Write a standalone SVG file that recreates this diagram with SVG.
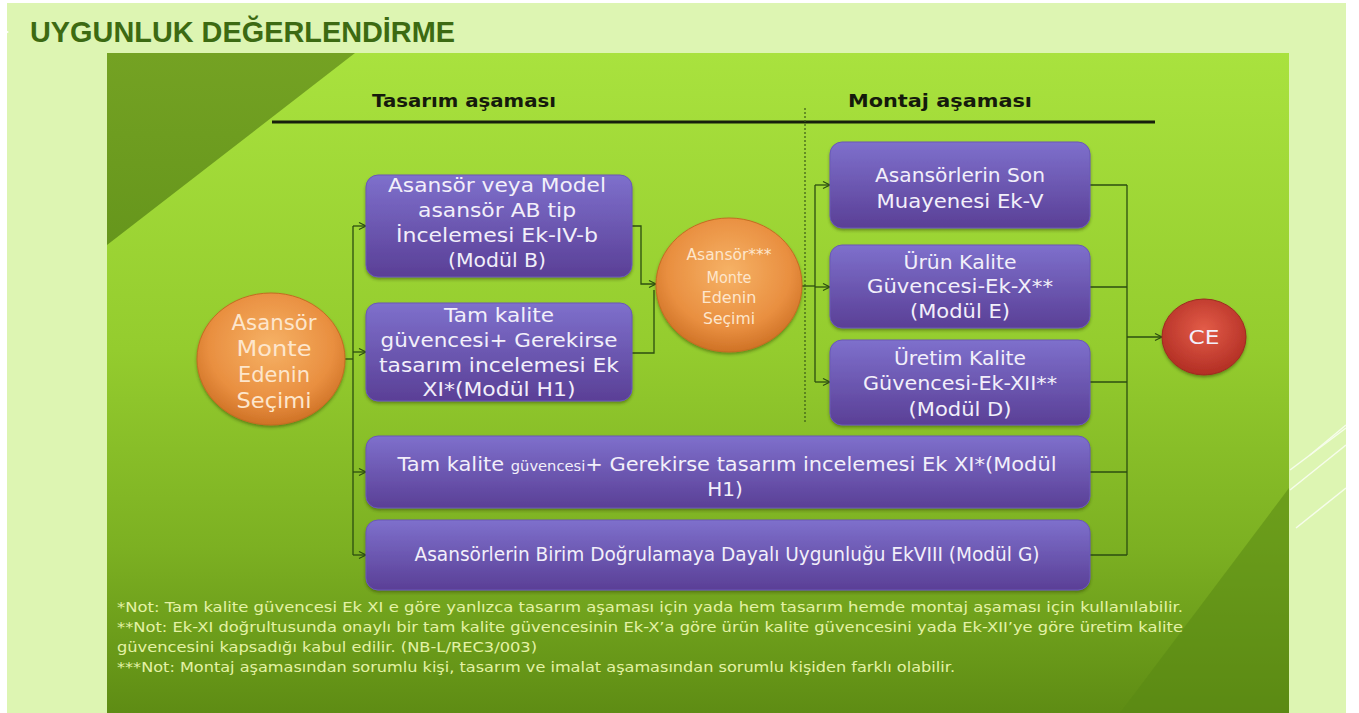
<svg xmlns="http://www.w3.org/2000/svg" width="1359" height="713" viewBox="0 0 1359 713">
<style>
.box{fill:url(#gPurple);stroke:#6a58b8;stroke-width:1;filter:url(#sh)}
.bt{font-family:"DejaVu Sans",sans-serif;font-size:20px;fill:#f2effa;text-anchor:middle}
.ct{font-family:"DejaVu Sans",sans-serif;font-size:21px;fill:#fde6cc;text-anchor:middle}
.ct2{font-family:"DejaVu Sans",sans-serif;font-size:16px;fill:#fde6cc;text-anchor:middle}
.hd{font-family:"DejaVu Sans",sans-serif;font-weight:bold;font-size:18px;fill:#151a0c}
.nt{font-family:"DejaVu Sans",sans-serif;font-size:14px;fill:#e4f2a6}
.cn{fill:none;stroke:#2c4e10;stroke-width:1.3}
.ar{marker-end:url(#arr)}
</style>
<defs>
<linearGradient id="gPanel" x1="0" y1="0" x2="0" y2="1">
<stop offset="0" stop-color="#a9e23e"/>
<stop offset="0.45" stop-color="#94cc2e"/>
<stop offset="0.75" stop-color="#7cb022"/>
<stop offset="1" stop-color="#5e8c14"/>
</linearGradient>
<linearGradient id="gTri" x1="0" y1="0" x2="0" y2="1">
<stop offset="0" stop-color="#74a223"/>
<stop offset="1" stop-color="#66961c"/>
</linearGradient>
<linearGradient id="gPurple" x1="0" y1="0" x2="0" y2="1">
<stop offset="0" stop-color="#7e70cc"/>
<stop offset="1" stop-color="#5a3f96"/>
</linearGradient>
<radialGradient id="gOrange" cx="0.5" cy="0.4" r="0.6">
<stop offset="0" stop-color="#f6b266"/>
<stop offset="0.7" stop-color="#e98f40"/>
<stop offset="1" stop-color="#cf7226"/>
</radialGradient>
<radialGradient id="gRed" cx="0.5" cy="0.4" r="0.6">
<stop offset="0" stop-color="#e35c48"/>
<stop offset="1" stop-color="#b22e24"/>
</radialGradient>
<filter id="sh" x="-10%" y="-10%" width="120%" height="130%">
<feDropShadow dx="0" dy="2" stdDeviation="1.5" flood-color="#2a3a10" flood-opacity="0.45"/>
</filter>
<marker id="arr" markerWidth="10" markerHeight="10" refX="8" refY="4" orient="auto" markerUnits="userSpaceOnUse">
<path d="M1,0.5 L8,4 L1,7.5" fill="none" stroke="#2c4e10" stroke-width="1.2"/>
</marker>
</defs>

<!-- background -->
<rect x="0" y="0" width="1359" height="713" fill="#ffffff"/>
<rect x="7" y="3" width="1339" height="710" fill="#ddf5b2"/>
<polygon points="0,27 9,32 0,37" fill="#ffffff"/>
<text x="30" y="42" font-family="Liberation Sans, Arial, sans-serif" font-weight="bold" font-size="30" fill="#3c6a12" textLength="425" lengthAdjust="spacingAndGlyphs">UYGUNLUK DEĞERLENDİRME</text>

<!-- panel -->
<rect x="107" y="53" width="1182" height="660" fill="url(#gPanel)"/>
<polygon points="107,53 355,53 107,245" fill="url(#gTri)"/>
<polygon points="1289,488 1289,713 1120,713" fill="#5a8814" opacity="0.55"/>
<g stroke="#ffffff" stroke-width="1.5" opacity="0.75">
<line x1="1290" y1="490" x2="1346" y2="445"/>
<line x1="1290" y1="470" x2="1346" y2="428"/>
<line x1="1296" y1="528" x2="1346" y2="488"/>
<line x1="1310" y1="455" x2="1346" y2="425"/>
</g>

<!-- headers -->
<text class="hd" x="372" y="107" textLength="184" lengthAdjust="spacingAndGlyphs">Tasarım aşaması</text>
<text class="hd" x="848" y="107" textLength="184" lengthAdjust="spacingAndGlyphs">Montaj aşaması</text>
<line x1="272" y1="122" x2="1155" y2="122" stroke="#17200c" stroke-width="3"/>
<line x1="805" y1="108" x2="805" y2="422" stroke="#3a5a18" stroke-width="1.2" stroke-dasharray="2 2"/>

<!-- connectors -->
<g id="connectors">
<path class="cn" d="M345,359 H353"/>
<path class="cn" d="M353,226 V555"/>
<path class="cn ar" d="M353,226 H366"/>
<path class="cn ar" d="M353,352 H366"/>
<path class="cn ar" d="M353,472 H366"/>
<path class="cn ar" d="M353,555 H366"/>
<path class="cn ar" d="M632,226 H641 V284 H656"/>
<path class="cn" d="M632,353 H654 V290"/>
<path class="cn" d="M802,286 H815"/>
<path class="cn" d="M815,185 V382"/>
<path class="cn ar" d="M815,185 H830"/>
<path class="cn ar" d="M815,287 H830"/>
<path class="cn ar" d="M815,382 H830"/>
<path class="cn" d="M1090,185 H1127 M1090,287 H1127 M1090,382 H1127 M1090,472 H1127 M1090,555 H1127"/>
<path class="cn" d="M1127,185 V555"/>
<path class="cn ar" d="M1127,337 H1162"/>
</g>

<!-- nodes -->
<g id="n-start">
<ellipse cx="271" cy="359" rx="74" ry="66" fill="url(#gOrange)" stroke="#c46c22" stroke-width="1" filter="url(#sh)"/>
<text class="ct" x="274" y="330" textLength="85" lengthAdjust="spacingAndGlyphs">Asansör</text>
<text class="ct" x="274" y="356" textLength="75" lengthAdjust="spacingAndGlyphs">Monte</text>
<text class="ct" x="274" y="382" textLength="72" lengthAdjust="spacingAndGlyphs">Edenin</text>
<text class="ct" x="274" y="408" textLength="75" lengthAdjust="spacingAndGlyphs">Seçimi</text>
</g>

<g id="n-modul-b">
<rect class="box" x="366" y="175" width="266" height="102" rx="12"/>
<text class="bt" x="497" y="192" textLength="218" lengthAdjust="spacingAndGlyphs">Asansör veya Model</text>
<text class="bt" x="497" y="217" textLength="158" lengthAdjust="spacingAndGlyphs">asansör AB tip</text>
<text class="bt" x="497" y="242" textLength="202" lengthAdjust="spacingAndGlyphs">İncelemesi Ek-IV-b</text>
<text class="bt" x="497" y="267" textLength="98" lengthAdjust="spacingAndGlyphs">(Modül B)</text>
</g>

<g id="n-modul-h1-a">
<rect class="box" x="366" y="303" width="266" height="98" rx="12"/>
<text class="bt" x="499" y="322" textLength="110" lengthAdjust="spacingAndGlyphs">Tam kalite</text>
<text class="bt" x="499" y="347" textLength="237" lengthAdjust="spacingAndGlyphs">güvencesi+ Gerekirse</text>
<text class="bt" x="499" y="372" textLength="240" lengthAdjust="spacingAndGlyphs">tasarım incelemesi Ek</text>
<text class="bt" x="499" y="396" textLength="153" lengthAdjust="spacingAndGlyphs">XI*(Modül H1)</text>
</g>

<g id="n-mid">
<ellipse cx="729" cy="285" rx="73" ry="67" fill="url(#gOrange)" stroke="#c46c22" stroke-width="1" filter="url(#sh)"/>
<text class="ct2" x="729" y="260" font-size="14" textLength="85" lengthAdjust="spacingAndGlyphs">Asansör***</text>
<text class="ct2" x="729" y="283" textLength="45" lengthAdjust="spacingAndGlyphs">Monte</text>
<text class="ct2" x="729" y="303" textLength="55" lengthAdjust="spacingAndGlyphs">Edenin</text>
<text class="ct2" x="729" y="324" textLength="52" lengthAdjust="spacingAndGlyphs">Seçimi</text>
</g>

<g id="n-son">
<rect class="box" x="830" y="142" width="260" height="86" rx="12"/>
<text class="bt" x="960" y="182" textLength="170" lengthAdjust="spacingAndGlyphs">Asansörlerin Son</text>
<text class="bt" x="960" y="208" textLength="167" lengthAdjust="spacingAndGlyphs">Muayenesi Ek-V</text>
</g>

<g id="n-urun">
<rect class="box" x="830" y="245" width="260" height="83" rx="12"/>
<text class="bt" x="960" y="269" textLength="113" lengthAdjust="spacingAndGlyphs">Ürün Kalite</text>
<text class="bt" x="960" y="293" textLength="186" lengthAdjust="spacingAndGlyphs">Güvencesi-Ek-X**</text>
<text class="bt" x="960" y="318" textLength="100" lengthAdjust="spacingAndGlyphs">(Modül E)</text>
</g>

<g id="n-uretim">
<rect class="box" x="830" y="340" width="260" height="85" rx="12"/>
<text class="bt" x="960" y="365" textLength="132" lengthAdjust="spacingAndGlyphs">Üretim Kalite</text>
<text class="bt" x="960" y="390" textLength="194" lengthAdjust="spacingAndGlyphs">Güvencesi-Ek-XII**</text>
<text class="bt" x="960" y="416" textLength="103" lengthAdjust="spacingAndGlyphs">(Modül D)</text>
</g>

<g id="n-modul-h1-b">
<rect class="box" x="366" y="436" width="724" height="72" rx="12"/>
<text class="bt" x="727" y="471" font-size="19" textLength="659" lengthAdjust="spacingAndGlyphs">Tam kalite <tspan font-size="14">güvencesi</tspan>+ Gerekirse tasarım incelemesi Ek XI*(Modül</text>
<text class="bt" x="725" y="496" font-size="19">H1)</text>
</g>

<g id="n-modul-g">
<rect class="box" x="366" y="520" width="724" height="70" rx="12"/>
<text class="bt" x="727" y="561" font-size="18" textLength="625" lengthAdjust="spacingAndGlyphs">Asansörlerin Birim Doğrulamaya Dayalı Uygunluğu EkVIII (Modül G)</text>
</g>

<g id="n-ce">
<ellipse cx="1204" cy="337" rx="42" ry="38" fill="url(#gRed)" stroke="#a02a20" stroke-width="1" filter="url(#sh)"/>
<text class="bt" x="1204" y="344" fill="#fbeae6" textLength="31" lengthAdjust="spacingAndGlyphs">CE</text>
</g>

<!-- notes -->
<g id="notes">
<text class="nt" x="117" y="612" textLength="1066" lengthAdjust="spacingAndGlyphs">*Not: Tam kalite güvencesi Ek XI e göre yanlızca tasarım aşaması için yada hem tasarım hemde montaj aşaması için kullanılabilir.</text>
<text class="nt" x="117" y="632" textLength="1066" lengthAdjust="spacingAndGlyphs">**Not: Ek-XI doğrultusunda onaylı bir tam kalite güvencesinin Ek-X’a göre ürün kalite güvencesini yada Ek-XII’ye göre üretim kalite</text>
<text class="nt" x="117" y="652" textLength="420" lengthAdjust="spacingAndGlyphs">güvencesini kapsadığı kabul edilir. (NB-L/REC3/003)</text>
<text class="nt" x="117" y="672" textLength="838" lengthAdjust="spacingAndGlyphs">***Not: Montaj aşamasından sorumlu kişi, tasarım ve imalat aşamasından sorumlu kişiden farklı olabilir.</text>
</g>
</svg>
